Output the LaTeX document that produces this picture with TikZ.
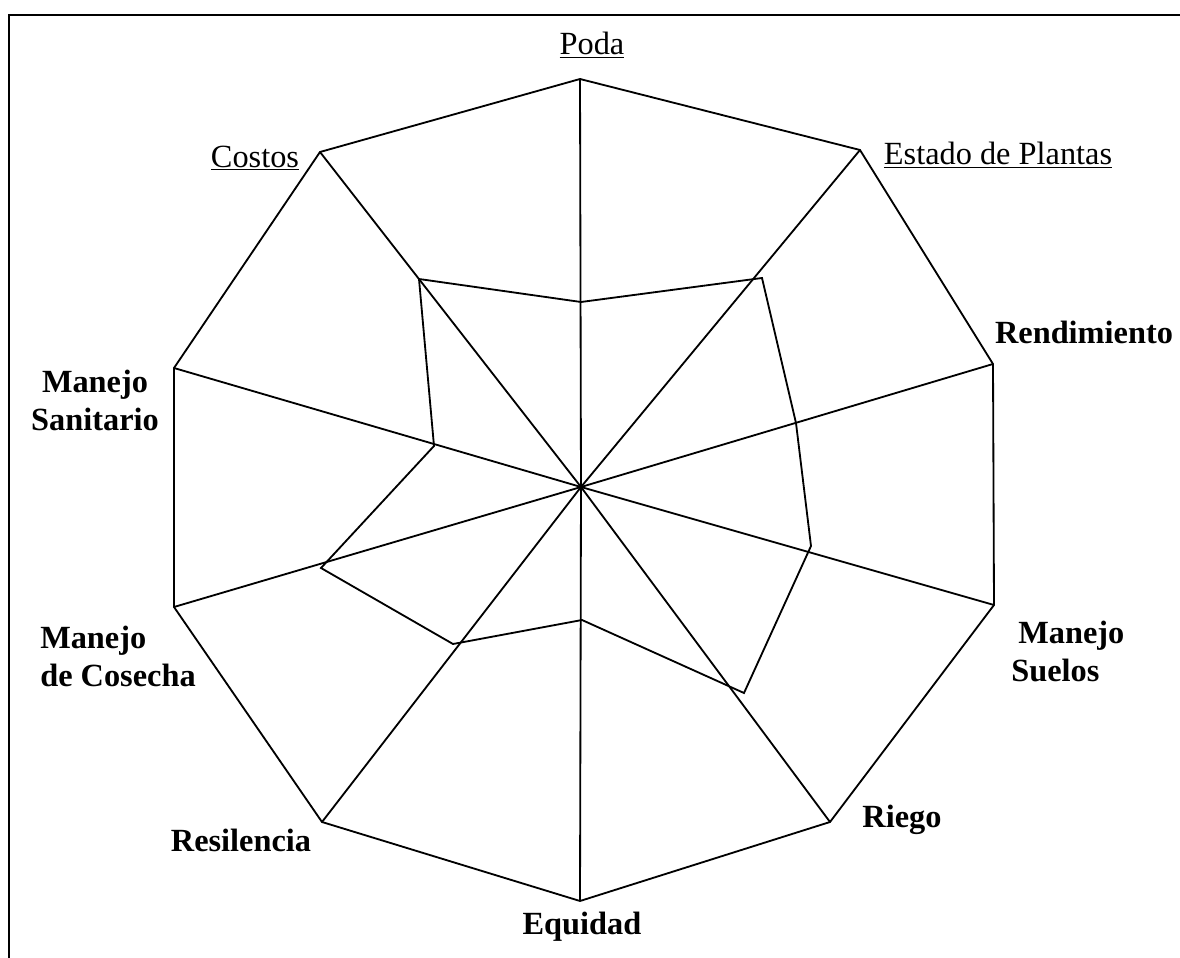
\documentclass[tikz,border=0pt]{standalone}
\usepackage{fontspec}
\setmainfont{Liberation Serif}
\begin{document}
\begin{tikzpicture}[x=0.025cm, y=-0.025cm,
    chartline/.style={line width=1.3pt, line join=miter},
    lab/.style={font=\fontsize{23}{27}\selectfont, inner sep=0pt},
    blab/.style={lab, font=\fontsize{23}{27}\selectfont\bfseries}]
    \useasboundingbox (0,0) rectangle (1180,958);
    % Frame (only top and left edges show)
    \draw[line width=1.5pt] (9,958) -- (9,15) -- (1180,15);
    % Centre, outer ring and scores
    \coordinate (c) at (581,487);
    \foreach \n/\x/\y in {poda/580/79, estado/860/150, rend/993/364, suelos/994/605,
        riego/830/822, equidad/580/901, resil/322/822, cosecha/174/607,
        sanit/174/368, costos/320/152}
        \coordinate (o-\n) at (\x,\y);
    \foreach \n/\x/\y in {poda/581/302, estado/762/278, rend/796/423, suelos/811/546,
        riego/744/693, equidad/582/620, resil/453/644, cosecha/321/568,
        sanit/434/446, costos/419/279}
        \coordinate (i-\n) at (\x,\y);
    % Spokes
    \foreach \n in {poda,estado,rend,suelos,riego,equidad,resil,cosecha,sanit,costos}
        \draw[chartline] (c) -- (o-\n);
    % Outer decagon
    \draw[chartline] (o-poda) -- (o-estado) -- (o-rend) -- (o-suelos) -- (o-riego)
        -- (o-equidad) -- (o-resil) -- (o-cosecha) -- (o-sanit) -- (o-costos) -- cycle;
    % Score polygon
    \draw[chartline] (i-poda) -- (i-estado) -- (i-rend) -- (i-suelos) -- (i-riego)
        -- (i-equidad) -- (i-resil) -- (i-cosecha) -- (i-sanit) -- (i-costos) -- cycle;
    % Labels
    \node[lab] (l-poda) at (592,45) {\underline{Poda}};
    \node[lab] (l-estado) at (998,155) {\underline{Estado de Plantas}};
    \node[lab] (l-costos) at (255,158) {\underline{Costos}};
    \node[blab] (l-rend) at (1084,332) {Rendimiento};
    \node[blab, align=left, anchor=west] (l-suelos) at (1011,651) {\hspace{5pt}Manejo\\Suelos};
    \node[blab] (l-riego) at (902,820) {Riego};
    \node[blab] (l-equidad) at (582,927) {Equidad};
    \node[blab] (l-resil) at (241,840) {Resilencia};
    \node[blab, align=left, anchor=west] (l-cosecha) at (40,656) {Manejo\\de Cosecha};
    \node[blab, align=center] (l-sanit) at (95,400) {Manejo\\Sanitario};
\end{tikzpicture}
\end{document}
